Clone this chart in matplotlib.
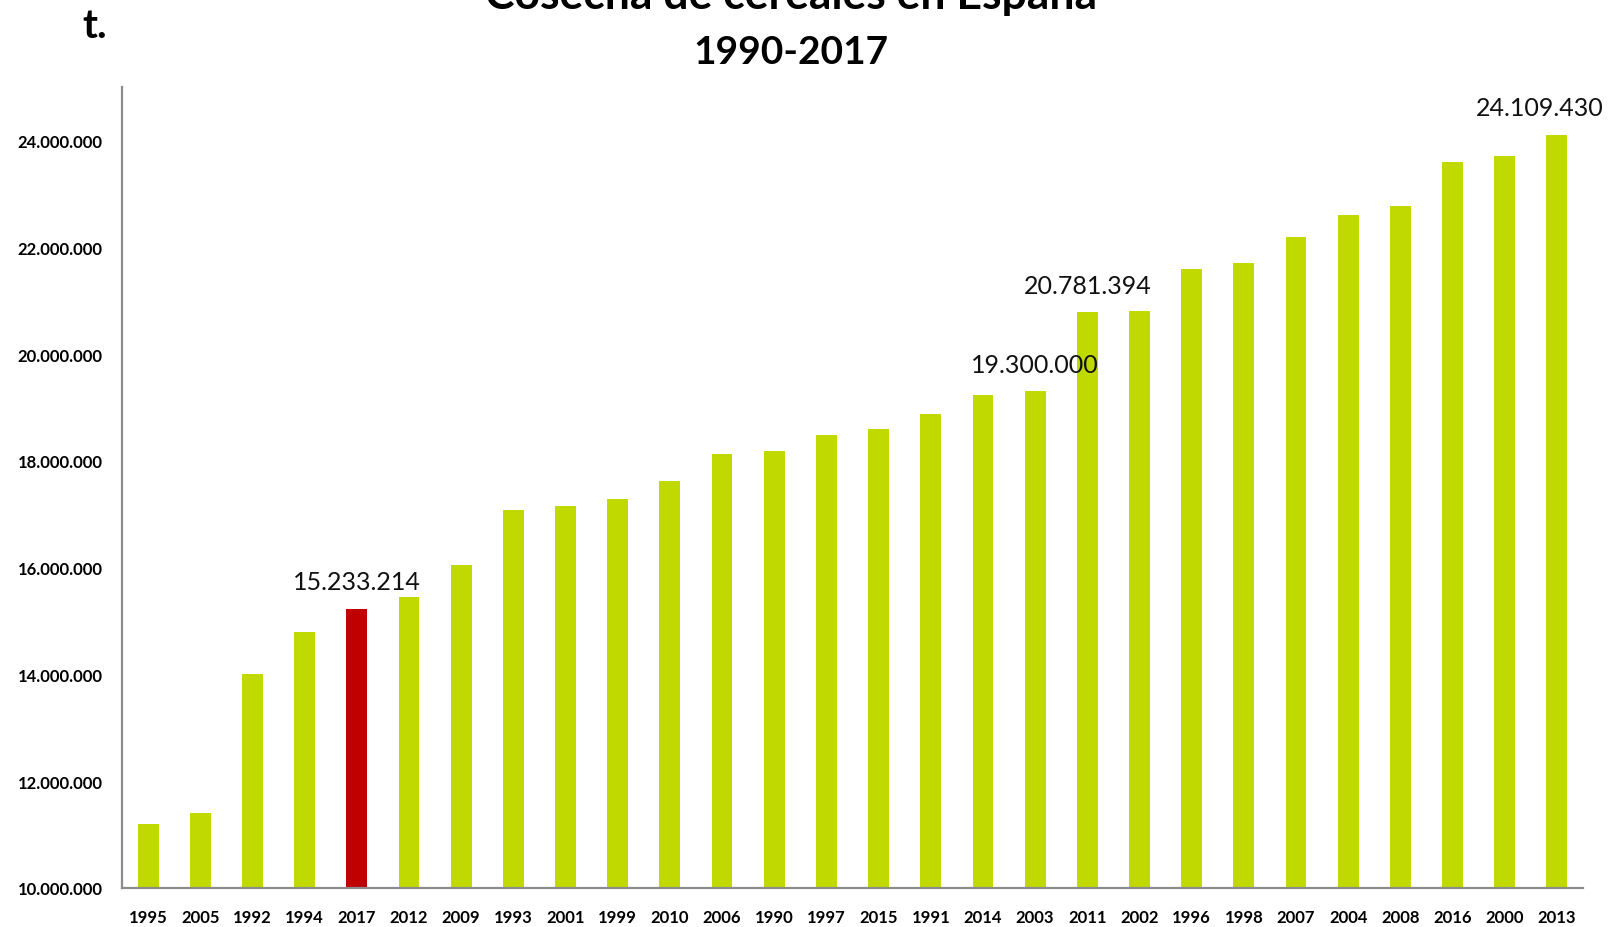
import matplotlib
matplotlib.use("Agg")
import matplotlib.pyplot as plt
from matplotlib.ticker import FuncFormatter

years = ["1995", "2005", "1992", "1994", "2017", "2012", "2009", "1993", "2001", "1999",
         "2010", "2006", "1990", "1997", "2015", "1991", "2014", "2003", "2011", "2002",
         "1996", "1998", "2007", "2004", "2008", "2016", "2000", "2013"]
harvest = [11200000, 11400000, 14000000, 14800000, 15233214, 15450000, 16040000, 17080000,
           17160000, 17280000, 17630000, 18130000, 18180000, 18480000, 18590000, 18880000,
           19240000, 19300000, 20781394, 20800000, 21600000, 21700000, 22190000, 22600000,
           22770000, 23590000, 23700000, 24109430]
highlight_year = "2017"
labeled_years = ["2017", "2003", "2011", "2013"]
yticks = [10000000, 12000000, 14000000, 16000000, 18000000, 20000000, 22000000, 24000000]

plt.rcParams['font.family'] = ['Lato', 'DejaVu Sans']

GREEN = "#C0D900"
RED = "#C00000"
AXIS = "#8C8C8C"

fig = plt.figure(figsize=(16.15, 9.28), dpi=100)
ax = fig.add_axes([122/1615, 1-889/928, (1583-122)/1615, (889-88)/928])

x = list(range(len(years)))
colors = [RED if y == highlight_year else GREEN for y in years]
ax.bar(x, harvest, width=0.4, color=colors, zorder=2)

ax.set_xlim(-0.5, len(years) - 0.5)
ax.set_ylim(10000000, 25000000)
ax.set_xticks(x)
ax.set_xticklabels(years, fontsize=12, fontweight='bold')
ax.set_yticks(yticks)
ax.yaxis.set_major_formatter(FuncFormatter(lambda v, p: f"{int(v):,}".replace(",", ".")))
for lab in ax.get_yticklabels():
    lab.set_fontweight('bold')
    lab.set_fontsize(12)
ax.tick_params(axis='y', length=0, pad=14)
ax.tick_params(axis='x', length=0, pad=15)

for s in ['top', 'right']:
    ax.spines[s].set_visible(False)
for s in ['left', 'bottom']:
    ax.spines[s].set_color(AXIS)
    ax.spines[s].set_linewidth(1.6)

for i, (yr, v) in enumerate(zip(years, harvest)):
    if yr in labeled_years:
        dx = -12 if i == len(years) - 1 else 0
        ax.annotate(f"{v:,}".replace(",", "."), xy=(i, v), xytext=(dx, 19.5),
                    textcoords='offset points', ha='center', va='center',
                    fontsize=18, color='#111111', annotation_clip=False)

fig.text(0.49, 1-9/928, "Cosecha de cereales en España", ha='center', va='baseline',
         fontsize=32, fontweight='bold')
fig.text(0.49, 1-64/928, "1990-2017", ha='center', va='baseline',
         fontsize=28, fontweight='bold')
fig.text(82/1615, 1-38/928, "t.", ha='left', va='baseline', fontsize=29, fontweight='bold')

fig.savefig("out.png", dpi=100)
